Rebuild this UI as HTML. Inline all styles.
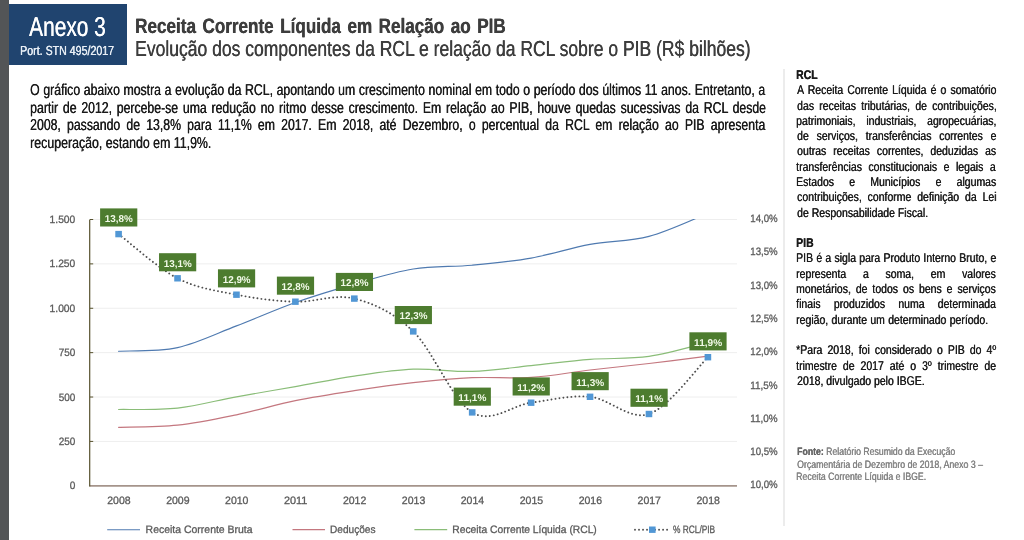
<!DOCTYPE html>
<html lang="pt-BR"><head><meta charset="utf-8">
<title>Anexo 3 - Receita Corrente Líquida em Relação ao PIB</title>
<style>
html,body{margin:0;padding:0}
body{text-rendering:geometricPrecision;width:1024px;height:540px;position:relative;overflow:hidden;background:#fff;font-family:"Liberation Sans", sans-serif}
#bar{position:absolute;left:0;top:0;width:8.5px;height:540px;background:#535557}
#box{position:absolute;left:8.5px;top:4px;width:118.3px;height:60.8px;background:#20446f}
#vl{position:absolute;left:783.3px;top:69px;width:1.6px;height:457px;background:#ececec}
.l{position:absolute;white-space:nowrap;transform-origin:0 0;margin:0;text-shadow:0.45px 0 0 currentColor}
.j{text-align:justify;text-align-last:justify;white-space:normal}
</style></head><body>
<div id="bar"></div>
<div id="box"></div>
<div id="vl"></div>
<svg id="chart" width="1024" height="540" viewBox="0 0 1024 540" style="position:absolute;left:0;top:0;text-rendering:geometricPrecision" font-family='&quot;Liberation Sans&quot;, sans-serif'>
<defs><clipPath id="pc"><rect x="90.0" y="218.9" width="647.0" height="268.3"/></clipPath></defs>
<line x1="90.0" y1="219.50" x2="737.0" y2="219.50" stroke="#eeeeee" stroke-width="1"/>
<line x1="90.0" y1="263.88" x2="737.0" y2="263.88" stroke="#eeeeee" stroke-width="1"/>
<line x1="90.0" y1="308.27" x2="737.0" y2="308.27" stroke="#eeeeee" stroke-width="1"/>
<line x1="90.0" y1="352.65" x2="737.0" y2="352.65" stroke="#eeeeee" stroke-width="1"/>
<line x1="90.0" y1="397.03" x2="737.0" y2="397.03" stroke="#eeeeee" stroke-width="1"/>
<line x1="90.0" y1="441.42" x2="737.0" y2="441.42" stroke="#eeeeee" stroke-width="1"/>
<g clip-path="url(#pc)" fill="none" stroke-linecap="round" stroke-linejoin="round">
<path d="M118.60 351.30 C128.42 350.68 157.89 351.83 177.53 347.60 C197.17 343.37 216.82 333.42 236.46 325.90 C256.10 318.38 275.75 309.47 295.39 302.50 C315.03 295.53 334.68 289.68 354.32 284.10 C373.96 278.52 393.61 272.15 413.25 269.00 C432.89 265.85 452.54 267.02 472.18 265.20 C491.82 263.38 511.47 261.57 531.11 258.10 C550.75 254.63 570.40 248.02 590.04 244.40 C609.68 240.78 629.33 241.58 648.97 236.40 C668.61 231.22 698.08 217.15 707.90 213.30" stroke="#4f7ab0" stroke-width="1.15"/>
<path d="M118.60 427.30 C128.42 426.95 157.89 427.28 177.53 425.20 C197.17 423.12 216.82 418.88 236.46 414.80 C256.10 410.72 275.75 404.72 295.39 400.70 C315.03 396.68 334.68 393.70 354.32 390.70 C373.96 387.70 393.61 384.87 413.25 382.70 C432.89 380.53 452.54 378.58 472.18 377.70 C491.82 376.82 511.47 378.68 531.11 377.40 C550.75 376.12 570.40 372.32 590.04 370.00 C609.68 367.68 629.33 365.82 648.97 363.50 C668.61 361.18 698.08 357.33 707.90 356.10" stroke="#c4777f" stroke-width="1.2"/>
<path d="M118.60 409.50 C128.42 409.27 157.89 410.22 177.53 408.10 C197.17 405.98 216.82 400.38 236.46 396.80 C256.10 393.22 275.75 390.05 295.39 386.60 C315.03 383.15 334.68 379.00 354.32 376.10 C373.96 373.20 393.61 369.98 413.25 369.20 C432.89 368.42 452.54 372.00 472.18 371.40 C491.82 370.80 511.47 367.60 531.11 365.60 C550.75 363.60 570.40 360.93 590.04 359.40 C609.68 357.87 629.33 359.22 648.97 356.40 C668.61 353.58 698.08 344.82 707.90 342.50" stroke="#8abd78" stroke-width="1.2"/>
</g>
<line x1="89.5" y1="485.80" x2="737.0" y2="485.80" stroke="#a5948b" stroke-width="1.7"/>
<line x1="89.7" y1="219.50" x2="89.7" y2="486.60" stroke="#57522e" stroke-width="1.2"/>
<line x1="90.0" y1="219.50" x2="93.2" y2="219.50" stroke="#57522e" stroke-width="1"/>
<line x1="90.0" y1="263.88" x2="93.2" y2="263.88" stroke="#57522e" stroke-width="1"/>
<line x1="90.0" y1="308.27" x2="93.2" y2="308.27" stroke="#57522e" stroke-width="1"/>
<line x1="90.0" y1="352.65" x2="93.2" y2="352.65" stroke="#57522e" stroke-width="1"/>
<line x1="90.0" y1="397.03" x2="93.2" y2="397.03" stroke="#57522e" stroke-width="1"/>
<line x1="90.0" y1="441.42" x2="93.2" y2="441.42" stroke="#57522e" stroke-width="1"/>
<path d="M118.60 234.10 C128.42 241.47 157.89 268.20 177.53 278.30 C197.17 288.40 216.82 290.80 236.46 294.70 C256.10 298.60 275.75 301.05 295.39 301.70 C315.03 302.35 334.68 293.65 354.32 298.60 C373.96 303.55 393.61 312.43 413.25 331.40 C432.89 350.37 452.54 400.52 472.18 412.40 C491.82 424.28 511.47 405.30 531.11 402.70 C550.75 400.10 570.40 394.92 590.04 396.80 C609.68 398.68 629.33 420.60 648.97 414.00 C668.61 407.40 698.08 366.67 707.90 357.20" fill="none" stroke="#4e4e4e" stroke-width="1.9" stroke-linecap="round" stroke-dasharray="0.01 4"/>
<rect x="115.30" y="230.90" width="6.6" height="6.4" fill="#5197d5"/>
<rect x="174.23" y="275.10" width="6.6" height="6.4" fill="#5197d5"/>
<rect x="233.16" y="291.50" width="6.6" height="6.4" fill="#5197d5"/>
<rect x="292.09" y="298.50" width="6.6" height="6.4" fill="#5197d5"/>
<rect x="351.02" y="295.40" width="6.6" height="6.4" fill="#5197d5"/>
<rect x="409.95" y="328.20" width="6.6" height="6.4" fill="#5197d5"/>
<rect x="468.88" y="409.20" width="6.6" height="6.4" fill="#5197d5"/>
<rect x="527.81" y="399.50" width="6.6" height="6.4" fill="#5197d5"/>
<rect x="586.74" y="393.60" width="6.6" height="6.4" fill="#5197d5"/>
<rect x="645.67" y="410.80" width="6.6" height="6.4" fill="#5197d5"/>
<rect x="704.60" y="354.00" width="6.6" height="6.4" fill="#5197d5"/>
<rect x="100.10" y="208.40" width="37.2" height="18.1" fill="#4d7c2f"/>
<text x="118.80" y="221.80" font-size="9.9" font-weight="bold" fill="#f2fae8" text-anchor="middle" textLength="28" lengthAdjust="spacingAndGlyphs">13,8%</text>
<rect x="159.03" y="253.20" width="37.2" height="18.1" fill="#4d7c2f"/>
<text x="177.73" y="266.60" font-size="9.9" font-weight="bold" fill="#f2fae8" text-anchor="middle" textLength="28" lengthAdjust="spacingAndGlyphs">13,1%</text>
<rect x="217.96" y="269.30" width="37.2" height="18.1" fill="#4d7c2f"/>
<text x="236.66" y="282.70" font-size="9.9" font-weight="bold" fill="#f2fae8" text-anchor="middle" textLength="28" lengthAdjust="spacingAndGlyphs">12,9%</text>
<rect x="276.89" y="276.60" width="37.2" height="18.1" fill="#4d7c2f"/>
<text x="295.59" y="290.00" font-size="9.9" font-weight="bold" fill="#f2fae8" text-anchor="middle" textLength="28" lengthAdjust="spacingAndGlyphs">12,8%</text>
<rect x="335.82" y="272.90" width="37.2" height="18.1" fill="#4d7c2f"/>
<text x="354.52" y="286.30" font-size="9.9" font-weight="bold" fill="#f2fae8" text-anchor="middle" textLength="28" lengthAdjust="spacingAndGlyphs">12,8%</text>
<rect x="394.75" y="306.00" width="37.2" height="18.1" fill="#4d7c2f"/>
<text x="413.45" y="319.40" font-size="9.9" font-weight="bold" fill="#f2fae8" text-anchor="middle" textLength="28" lengthAdjust="spacingAndGlyphs">12,3%</text>
<rect x="453.68" y="387.60" width="37.2" height="18.1" fill="#4d7c2f"/>
<text x="472.38" y="401.00" font-size="9.9" font-weight="bold" fill="#f2fae8" text-anchor="middle" textLength="28" lengthAdjust="spacingAndGlyphs">11,1%</text>
<rect x="512.61" y="377.40" width="37.2" height="18.1" fill="#4d7c2f"/>
<text x="531.31" y="390.80" font-size="9.9" font-weight="bold" fill="#f2fae8" text-anchor="middle" textLength="28" lengthAdjust="spacingAndGlyphs">11,2%</text>
<rect x="571.54" y="372.10" width="37.2" height="18.1" fill="#4d7c2f"/>
<text x="590.24" y="385.50" font-size="9.9" font-weight="bold" fill="#f2fae8" text-anchor="middle" textLength="28" lengthAdjust="spacingAndGlyphs">11,3%</text>
<rect x="630.47" y="388.70" width="37.2" height="18.1" fill="#4d7c2f"/>
<text x="649.17" y="402.10" font-size="9.9" font-weight="bold" fill="#f2fae8" text-anchor="middle" textLength="28" lengthAdjust="spacingAndGlyphs">11,1%</text>
<rect x="689.40" y="332.30" width="37.2" height="18.1" fill="#4d7c2f"/>
<text x="708.10" y="345.70" font-size="9.9" font-weight="bold" fill="#f2fae8" text-anchor="middle" textLength="28" lengthAdjust="spacingAndGlyphs">11,9%</text>
<text x="75.3" y="223.00" font-size="10.7" fill="#5a5a5a" stroke="#5a5a5a" stroke-width="0.3" text-anchor="end" textLength="25.7" lengthAdjust="spacingAndGlyphs">1.500</text>
<text x="75.3" y="267.38" font-size="10.7" fill="#5a5a5a" stroke="#5a5a5a" stroke-width="0.3" text-anchor="end" textLength="25.7" lengthAdjust="spacingAndGlyphs">1.250</text>
<text x="75.3" y="311.77" font-size="10.7" fill="#5a5a5a" stroke="#5a5a5a" stroke-width="0.3" text-anchor="end" textLength="25.7" lengthAdjust="spacingAndGlyphs">1.000</text>
<text x="75.3" y="356.15" font-size="10.7" fill="#5a5a5a" stroke="#5a5a5a" stroke-width="0.3" text-anchor="end" textLength="16.6" lengthAdjust="spacingAndGlyphs">750</text>
<text x="75.3" y="400.53" font-size="10.7" fill="#5a5a5a" stroke="#5a5a5a" stroke-width="0.3" text-anchor="end" textLength="16.6" lengthAdjust="spacingAndGlyphs">500</text>
<text x="75.3" y="444.92" font-size="10.7" fill="#5a5a5a" stroke="#5a5a5a" stroke-width="0.3" text-anchor="end" textLength="16.6" lengthAdjust="spacingAndGlyphs">250</text>
<text x="75.3" y="489.30" font-size="10.7" fill="#5a5a5a" stroke="#5a5a5a" stroke-width="0.3" text-anchor="end" textLength="5.6" lengthAdjust="spacingAndGlyphs">0</text>
<text x="750.3" y="222.10" font-size="10.7" fill="#5a5a5a" stroke="#5a5a5a" stroke-width="0.3" textLength="27.4" lengthAdjust="spacingAndGlyphs">14,0%</text>
<text x="750.3" y="255.39" font-size="10.7" fill="#5a5a5a" stroke="#5a5a5a" stroke-width="0.3" textLength="27.4" lengthAdjust="spacingAndGlyphs">13,5%</text>
<text x="750.3" y="288.68" font-size="10.7" fill="#5a5a5a" stroke="#5a5a5a" stroke-width="0.3" textLength="27.4" lengthAdjust="spacingAndGlyphs">13,0%</text>
<text x="750.3" y="321.96" font-size="10.7" fill="#5a5a5a" stroke="#5a5a5a" stroke-width="0.3" textLength="27.4" lengthAdjust="spacingAndGlyphs">12,5%</text>
<text x="750.3" y="355.25" font-size="10.7" fill="#5a5a5a" stroke="#5a5a5a" stroke-width="0.3" textLength="27.4" lengthAdjust="spacingAndGlyphs">12,0%</text>
<text x="750.3" y="388.54" font-size="10.7" fill="#5a5a5a" stroke="#5a5a5a" stroke-width="0.3" textLength="27.4" lengthAdjust="spacingAndGlyphs">11,5%</text>
<text x="750.3" y="421.83" font-size="10.7" fill="#5a5a5a" stroke="#5a5a5a" stroke-width="0.3" textLength="27.4" lengthAdjust="spacingAndGlyphs">11,0%</text>
<text x="750.3" y="455.11" font-size="10.7" fill="#5a5a5a" stroke="#5a5a5a" stroke-width="0.3" textLength="27.4" lengthAdjust="spacingAndGlyphs">10,5%</text>
<text x="750.3" y="488.40" font-size="10.7" fill="#5a5a5a" stroke="#5a5a5a" stroke-width="0.3" textLength="27.4" lengthAdjust="spacingAndGlyphs">10,0%</text>
<text x="118.90" y="504.0" font-size="10.7" fill="#5a5a5a" stroke="#5a5a5a" stroke-width="0.3" text-anchor="middle" textLength="23.4" lengthAdjust="spacingAndGlyphs">2008</text>
<text x="177.83" y="504.0" font-size="10.7" fill="#5a5a5a" stroke="#5a5a5a" stroke-width="0.3" text-anchor="middle" textLength="23.4" lengthAdjust="spacingAndGlyphs">2009</text>
<text x="236.76" y="504.0" font-size="10.7" fill="#5a5a5a" stroke="#5a5a5a" stroke-width="0.3" text-anchor="middle" textLength="23.4" lengthAdjust="spacingAndGlyphs">2010</text>
<text x="295.69" y="504.0" font-size="10.7" fill="#5a5a5a" stroke="#5a5a5a" stroke-width="0.3" text-anchor="middle" textLength="23.4" lengthAdjust="spacingAndGlyphs">2011</text>
<text x="354.62" y="504.0" font-size="10.7" fill="#5a5a5a" stroke="#5a5a5a" stroke-width="0.3" text-anchor="middle" textLength="23.4" lengthAdjust="spacingAndGlyphs">2012</text>
<text x="413.55" y="504.0" font-size="10.7" fill="#5a5a5a" stroke="#5a5a5a" stroke-width="0.3" text-anchor="middle" textLength="23.4" lengthAdjust="spacingAndGlyphs">2013</text>
<text x="472.48" y="504.0" font-size="10.7" fill="#5a5a5a" stroke="#5a5a5a" stroke-width="0.3" text-anchor="middle" textLength="23.4" lengthAdjust="spacingAndGlyphs">2014</text>
<text x="531.41" y="504.0" font-size="10.7" fill="#5a5a5a" stroke="#5a5a5a" stroke-width="0.3" text-anchor="middle" textLength="23.4" lengthAdjust="spacingAndGlyphs">2015</text>
<text x="590.34" y="504.0" font-size="10.7" fill="#5a5a5a" stroke="#5a5a5a" stroke-width="0.3" text-anchor="middle" textLength="23.4" lengthAdjust="spacingAndGlyphs">2016</text>
<text x="649.27" y="504.0" font-size="10.7" fill="#5a5a5a" stroke="#5a5a5a" stroke-width="0.3" text-anchor="middle" textLength="23.4" lengthAdjust="spacingAndGlyphs">2017</text>
<text x="708.20" y="504.0" font-size="10.7" fill="#5a5a5a" stroke="#5a5a5a" stroke-width="0.3" text-anchor="middle" textLength="23.4" lengthAdjust="spacingAndGlyphs">2018</text>
<line x1="107.2" y1="529.7" x2="140" y2="529.7" stroke="#4f7ab0" stroke-width="1.15"/>
<text x="145.6" y="533.2" font-size="10.7" fill="#5a5a5a" stroke="#5a5a5a" stroke-width="0.3" textLength="107.0" lengthAdjust="spacingAndGlyphs">Receita Corrente Bruta</text>
<line x1="292.5" y1="529.7" x2="325" y2="529.7" stroke="#c4777f" stroke-width="1.2"/>
<text x="330.0" y="533.2" font-size="10.7" fill="#5a5a5a" stroke="#5a5a5a" stroke-width="0.3" textLength="45.5" lengthAdjust="spacingAndGlyphs">Deduções</text>
<line x1="414.4" y1="529.7" x2="447.2" y2="529.7" stroke="#8abd78" stroke-width="1.2"/>
<text x="452.3" y="533.2" font-size="10.7" fill="#5a5a5a" stroke="#5a5a5a" stroke-width="0.3" textLength="144.5" lengthAdjust="spacingAndGlyphs">Receita Corrente Líquida (RCL)</text>
<line x1="635" y1="529.7" x2="668" y2="529.7" stroke="#4e4e4e" stroke-width="1.9" stroke-linecap="round" stroke-dasharray="0.01 4"/>
<rect x="649.0" y="526.5" width="6.6" height="6.4" fill="#5197d5"/>
<text x="673.0" y="533.2" font-size="10.7" fill="#5a5a5a" stroke="#5a5a5a" stroke-width="0.3" textLength="42.2" lengthAdjust="spacingAndGlyphs">% RCL/PIB</text>
</svg>
<div class="l" id="t0" style="left:28.60px;top:11.00px;font-size:27.40px;line-height:31px;color:#ffffff;transform:scaleX(0.7626);">Anexo 3</div>
<div class="l" id="t1" style="left:19.73px;top:43.00px;font-size:13.10px;line-height:15px;color:#e9eff6;transform:scaleX(0.8115);">Port. STN 495/2017</div>
<div class="l" id="t2" style="left:134.93px;top:15.00px;font-size:20.90px;line-height:23px;color:#3d3d3d;font-weight:bold;word-spacing:2.20px;transform:scaleX(0.8175);">Receita Corrente Líquida em Relação ao PIB</div>
<div class="l" id="t3" style="left:135.11px;top:36.00px;font-size:21.80px;line-height:25px;color:#3d3d3d;transform:scaleX(0.8041);">Evolução dos componentes da RCL e relação da RCL sobre o PIB (R$ bilhões)</div>
<div class="l j" id="t4" style="left:30.13px;top:82.00px;font-size:15.80px;line-height:17px;color:#1a1a1a;transform:scaleX(0.7760);width:947.16px;">O gráfico abaixo mostra a evolução da RCL, apontando um crescimento nominal em todo o período dos últimos 11 anos. Entretanto, a</div>
<div class="l j" id="t5" style="left:29.77px;top:100.00px;font-size:15.80px;line-height:17px;color:#1a1a1a;transform:scaleX(0.7760);width:948.28px;">partir de 2012, percebe-se uma redução no ritmo desse crescimento. Em relação ao PIB, houve quedas sucessivas da RCL desde</div>
<div class="l j" id="t6" style="left:30.35px;top:117.00px;font-size:15.80px;line-height:17px;color:#1a1a1a;transform:scaleX(0.7760);width:947.34px;">2008, passando de 13,8% para 11,1% em 2017. Em 2018, até Dezembro, o percentual da RCL em relação ao PIB apresenta</div>
<div class="l" id="t7" style="left:29.82px;top:135.00px;font-size:15.80px;line-height:17px;color:#1a1a1a;transform:scaleX(0.7825);">recuperação, estando em 11,9%.</div>
<div class="l" id="t8" style="left:796.08px;top:68.00px;font-size:12.70px;line-height:14px;color:#1a1a1a;font-weight:bold;transform:scaleX(0.8250);">RCL</div>
<div class="l j" id="t9" style="left:796.82px;top:83.00px;font-size:12.70px;line-height:14px;color:#1a1a1a;transform:scaleX(0.8250);width:241.55px;">A Receita Corrente Líquida é o somatório</div>
<div class="l j" id="t10" style="left:796.77px;top:99.00px;font-size:12.70px;line-height:14px;color:#1a1a1a;transform:scaleX(0.8250);width:241.95px;">das receitas tributárias, de contribuições,</div>
<div class="l j" id="t11" style="left:796.28px;top:114.00px;font-size:12.70px;line-height:14px;color:#1a1a1a;transform:scaleX(0.8250);width:242.71px;">patrimoniais, industriais, agropecuárias,</div>
<div class="l j" id="t12" style="left:796.77px;top:129.00px;font-size:12.70px;line-height:14px;color:#1a1a1a;transform:scaleX(0.8250);width:241.56px;">de serviços, transferências correntes e</div>
<div class="l j" id="t13" style="left:797.00px;top:144.00px;font-size:12.70px;line-height:14px;color:#1a1a1a;transform:scaleX(0.8250);width:241.21px;">outras receitas correntes, deduzidas as</div>
<div class="l j" id="t14" style="left:796.17px;top:160.00px;font-size:12.70px;line-height:14px;color:#1a1a1a;transform:scaleX(0.8250);width:241.82px;">transferências constitucionais e legais a</div>
<div class="l j" id="t15" style="left:796.30px;top:175.00px;font-size:12.70px;line-height:14px;color:#1a1a1a;transform:scaleX(0.8250);width:242.48px;">Estados e Municípios e algumas</div>
<div class="l j" id="t16" style="left:796.76px;top:190.00px;font-size:12.70px;line-height:14px;color:#1a1a1a;transform:scaleX(0.8250);width:241.70px;">contribuições, conforme definição da Lei</div>
<div class="l" id="t17" style="left:797.00px;top:206.00px;font-size:12.70px;line-height:14px;color:#1a1a1a;transform:scaleX(0.8250);">de Responsabilidade Fiscal.</div>
<div class="l" id="t18" style="left:796.08px;top:236.00px;font-size:12.70px;line-height:14px;color:#1a1a1a;font-weight:bold;transform:scaleX(0.8250);">PIB</div>
<div class="l j" id="t19" style="left:796.26px;top:251.00px;font-size:12.70px;line-height:14px;color:#1a1a1a;transform:scaleX(0.8250);width:242.55px;">PIB é a sigla para Produto Interno Bruto, e</div>
<div class="l j" id="t20" style="left:796.03px;top:267.00px;font-size:12.70px;line-height:14px;color:#1a1a1a;transform:scaleX(0.8250);width:241.97px;">representa a soma, em valores</div>
<div class="l j" id="t21" style="left:796.03px;top:282.00px;font-size:12.70px;line-height:14px;color:#1a1a1a;transform:scaleX(0.8250);width:242.01px;">monetários, de todos os bens e serviços</div>
<div class="l j" id="t22" style="left:796.24px;top:297.00px;font-size:12.70px;line-height:14px;color:#1a1a1a;transform:scaleX(0.8250);width:242.15px;">finais produzidos numa determinada</div>
<div class="l" id="t23" style="left:796.03px;top:313.00px;font-size:12.70px;line-height:14px;color:#1a1a1a;word-spacing:0.50px;transform:scaleX(0.8250);">região, durante um determinado período.</div>
<div class="l j" id="t24" style="left:796.15px;top:343.00px;font-size:12.70px;line-height:14px;color:#1a1a1a;transform:scaleX(0.8250);width:242.43px;">*Para 2018, foi considerado o PIB do 4º</div>
<div class="l j" id="t25" style="left:796.17px;top:359.00px;font-size:12.70px;line-height:14px;color:#1a1a1a;transform:scaleX(0.8250);width:242.26px;">trimestre de 2017 até o 3º trimestre de</div>
<div class="l" id="t26" style="left:797.00px;top:374.00px;font-size:12.70px;line-height:14px;color:#1a1a1a;transform:scaleX(0.8250);">2018, divulgado pelo IBGE.</div>
<div class="l" id="t27" style="left:796.90px;top:446.00px;font-size:10.80px;line-height:12px;color:#828282;transform:scaleX(0.8057);"><b style="color:#666">Fonte:</b> Relatório Resumido da Execução</div>
<div class="l" id="t28" style="left:796.90px;top:459.00px;font-size:10.80px;line-height:12px;color:#828282;transform:scaleX(0.8104);">Orçamentária de Dezembro de 2018, Anexo 3 –</div>
<div class="l" id="t29" style="left:796.37px;top:471.00px;font-size:10.80px;line-height:12px;color:#828282;transform:scaleX(0.8082);">Receita Corrente Líquida e IBGE.</div>
</body></html>
